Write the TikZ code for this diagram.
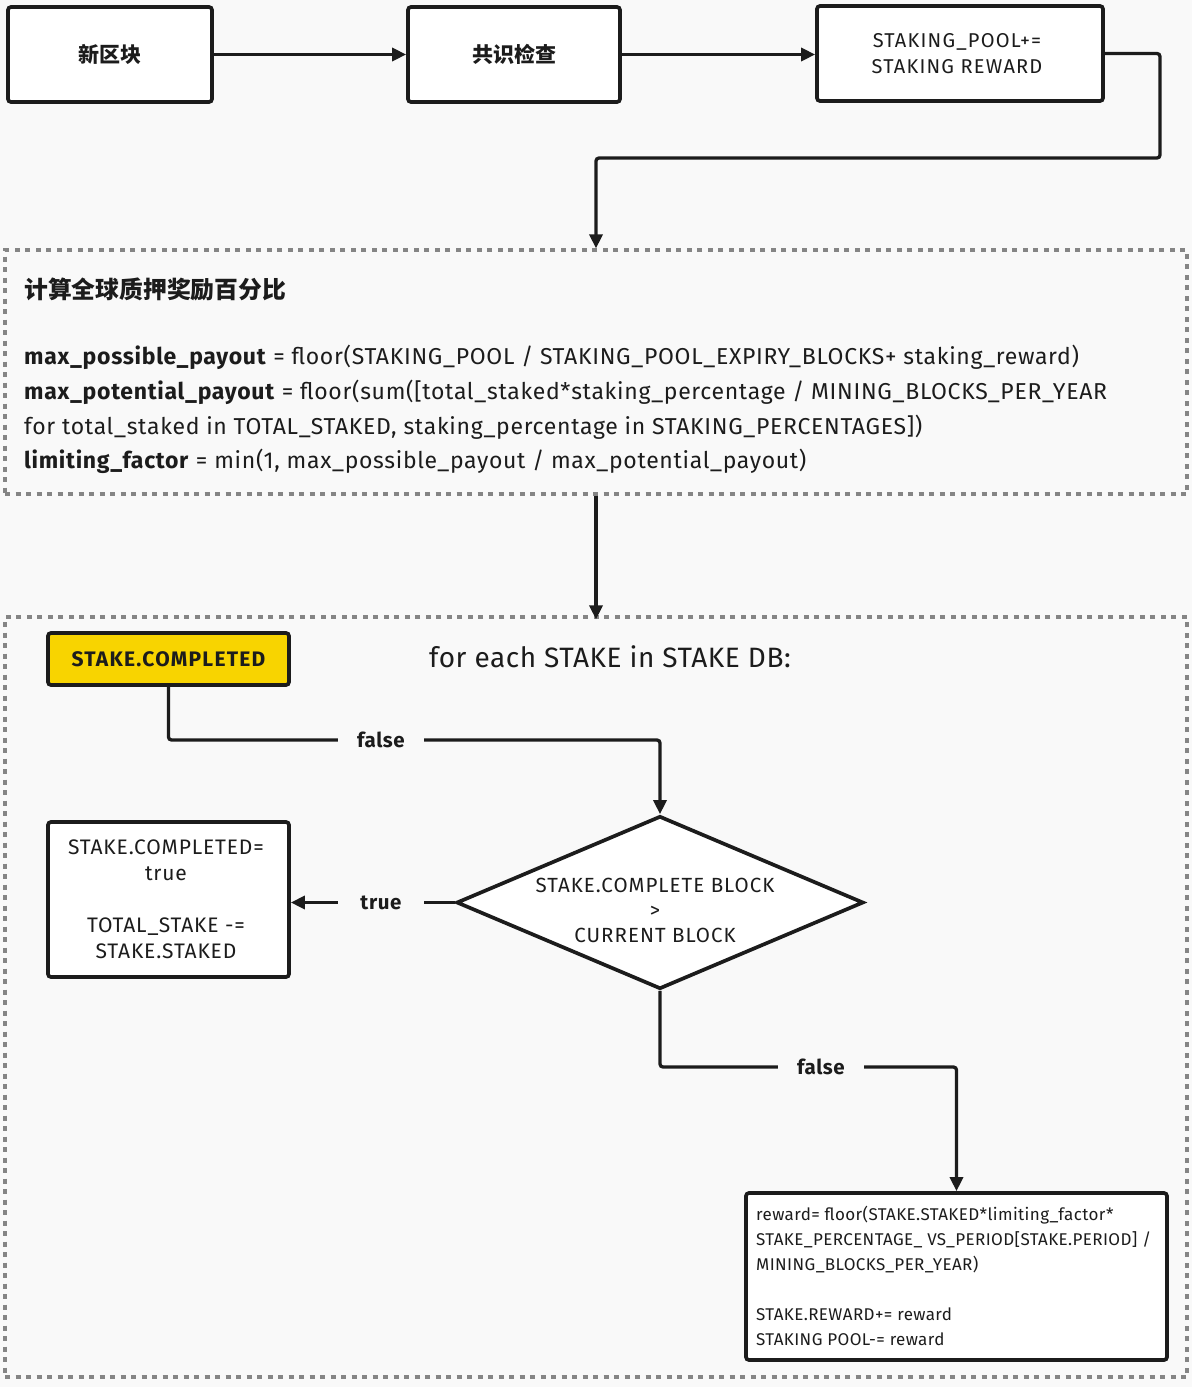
\documentclass[tikz,border=0pt]{standalone}
\usepackage{fontspec}
\setmainfont{Fira Sans}
\newfontfamily\cjk{Noto Sans CJK SC}
\usetikzlibrary{arrows.meta,shapes.geometric}
\definecolor{ink}{HTML}{1C1C1C}
\definecolor{dashgray}{HTML}{858585}
\definecolor{bg}{HTML}{F9F9F9}
\definecolor{gold}{HTML}{F8D400}
\newcommand{\spaced}[1]{\addfontfeatures{LetterSpace=#1}}
\begin{document}
\begin{tikzpicture}[x=1pt,y=-1pt,
  box/.style={draw=ink,line width=3.7pt,rounded corners=3pt,fill=white,inner sep=0pt},
  group/.style={draw=dashgray,line width=3.2pt,dash pattern=on 5pt off 5.5pt,inner sep=0pt},
  link/.style={draw=ink,line width=3.3pt,rounded corners=3pt},
  tip/.style={link,-{Triangle[length=14pt,width=13pt]}},
  cond/.style={font=\fontsize{20.5}{24}\selectfont\bfseries\spaced{3},minimum width=86pt,inner sep=0pt,text=ink},
  body/.style={font=\fontsize{20}{26}\selectfont\spaced{6},align=center,text=ink,inner sep=0pt},
  code/.style={font=\fontsize{23}{34}\selectfont\spaced{3},anchor=base west,inner sep=0pt,text=ink},
]
% page
\fill[bg] (0,0) rectangle (1192,1387);
\useasboundingbox (0,0) rectangle (1192,1387);

% top row
\node[box,minimum width=204pt,minimum height=95pt] (nb) at (110,54.5) {};
\node[font=\cjk\fontsize{21}{24}\selectfont\bfseries,text=ink] at (nb.center) {新区块};
\node[box,minimum width=212pt,minimum height=95pt] (cc) at (514,54.5) {};
\node[font=\cjk\fontsize{21}{24}\selectfont\bfseries,text=ink] at (cc.center) {共识检查};
\node[box,minimum width=286pt,minimum height=95pt] (sp) at (960,53.5) {};
\node[body] at (957,54) {STAKING\_POOL+=\\STAKING REWARD};

\draw[tip] (nb.east) -- (cc.west);
\draw[tip] (cc.east) -- (cc.east -| sp.west);

% global percentage block
\node[group,minimum width=1182pt,minimum height=244pt] (calc) at (596,372) {};
\node[font=\cjk\fontsize{23.8}{26}\selectfont\bfseries,anchor=base west,inner sep=0pt,text=ink] at (24,298) {计算全球质押奖励百分比};
\node[code] at (24,364) {\textbf{max\_possible\_payout} = floor(STAKING\_POOL / STAKING\_POOL\_EXPIRY\_BLOCKS+ staking\_reward)};
\node[code] at (24,399) {\textbf{max\_potential\_payout} = floor(sum([total\_staked*staking\_percentage / MINING\_BLOCKS\_PER\_YEAR};
\node[code] at (24,434) {for total\_staked in TOTAL\_STAKED, staking\_percentage in STAKING\_PERCENTAGES])};
\node[code] at (24,468) {\textbf{limiting\_factor} = min(1, max\_possible\_payout / max\_potential\_payout)};

\coordinate (turn) at (1160,158);
\draw[tip] (sp.east) -| (turn) -| (calc.north);

% per-stake loop
\node[group,minimum width=1182pt,minimum height=760pt] (loop) at (596,997) {};
\draw[tip] (calc.south) -- ([yshift=-4pt]loop.north);

\node[font=\fontsize{28}{32}\selectfont\spaced{2},text=ink] (hdr) at (610,657) {for each STAKE in STAKE DB:};

\node[box,fill=gold,minimum width=241pt,minimum height=52pt] (done) at (168.5,659) {};
\node[font=\fontsize{21}{24}\selectfont\bfseries\spaced{6},text=ink] at (done.center) {STAKE.COMPLETED};

\node[draw=ink,line width=3.7pt,fill=white,diamond,minimum width=407pt,minimum height=173pt,inner sep=0pt] (dia) at (660,902.5) {};
\node[body,font=\fontsize{20.5}{25}\selectfont\spaced{5}] at (655,910) {STAKE.COMPLETE BLOCK\\>\\CURRENT BLOCK};

\node[box,minimum width=241pt,minimum height=155pt] (fin) at (168.5,899.5) {};
\node[body,font=\fontsize{21}{26}\selectfont\spaced{4}] at (166,899.5) {STAKE.COMPLETED=\\true\\[26pt]TOTAL\_STAKE -=\\STAKE.STAKED};

\node[box,minimum width=421pt,minimum height=167pt] (rw) at (956.5,1276.5) {};
\node[font=\fontsize{17}{25}\selectfont\spaced{2.3},align=left,anchor=north west,inner sep=0pt,text=ink] at (756,1206) {reward= floor(STAKE.STAKED*limiting\_factor*\\STAKE\_PERCENTAGE\_ VS\_PERIOD[STAKE.PERIOD] /\\MINING\_BLOCKS\_PER\_YEAR)\\[25pt]STAKE.REWARD+= reward\\STAKING POOL-= reward};

% branch labels
\node[cond] (f1) at (381,740) {false};
\node[cond] (t1) at (381,902.5) {true};
\node[cond] (f2) at (821,1067) {false};

\draw[link] (done.south) |- (f1.west);
\draw[tip] (f1.east) -| (dia.north);
\draw[link] (dia.west) -- (t1.east);
\draw[tip] (t1.west) -- (t1.west -| fin.east);
\draw[link] (dia.south) |- (f2.west);
\draw[tip] (f2.east) -| (rw.north);
\end{tikzpicture}
\end{document}
